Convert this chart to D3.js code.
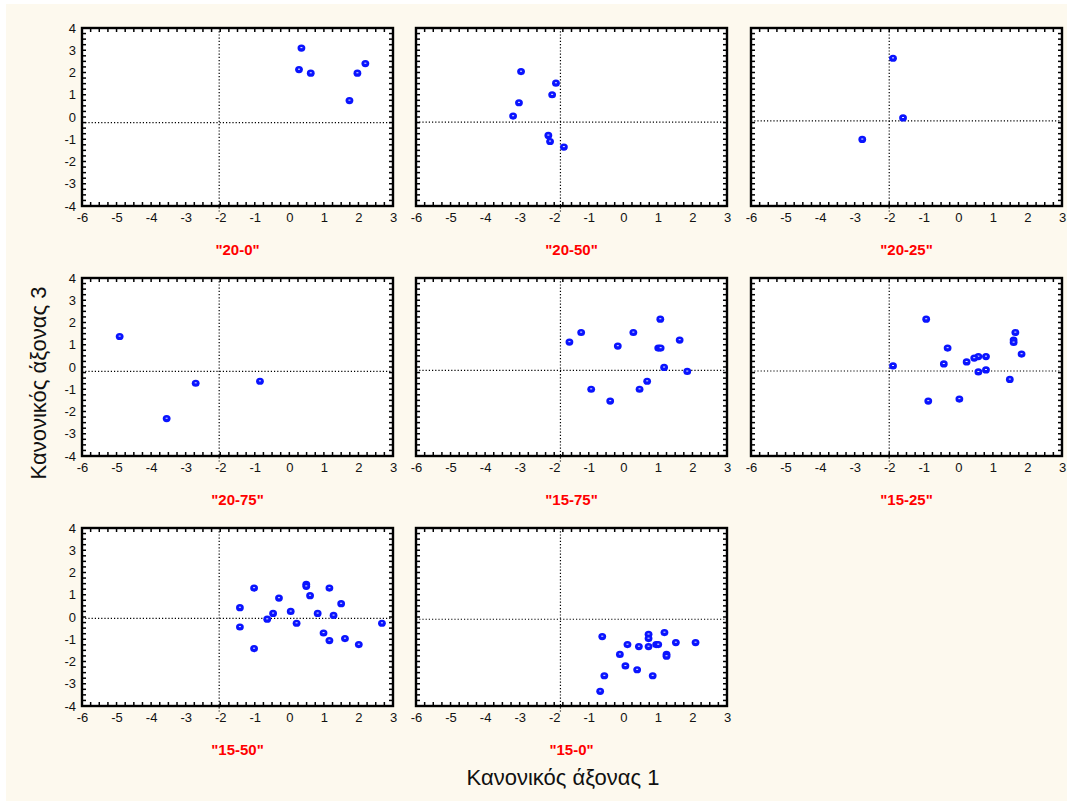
<!DOCTYPE html>
<html>
<head>
<meta charset="utf-8">
<script src="https://cdn.jsdelivr.net/npm/d3@7"></script>
<style>
  body { margin: 0; background: #ffffff; }
  svg { display: block; font-family: 'Liberation Sans', Arial, sans-serif; }
</style>
</head>
<body>
<svg id="main" width="1073" height="805"></svg>
<script>
// DATA
const groupNames = ['"20-0"', '"20-50"', '"20-25"', '"20-75"', '"15-75"', '"15-25"', '"15-50"', '"15-0"'];

const pts20_0 = [[0.35, 3.10], [0.28, 2.13], [0.62, 1.97], [1.74, 0.74], [1.97, 1.97], [2.20, 2.40]];
const pts20_50 = [[-2.96, 2.04], [-1.95, 1.52], [-2.06, 1.00], [-3.02, 0.64], [-3.19, 0.04],
  [-2.17, -0.83], [-2.12, -1.10], [-1.72, -1.35]];
const pts20_25 = [[-1.89, 2.64], [-1.60, -0.04], [-2.78, -1.01]];
const pts20_75 = [[-4.91, 1.37], [-3.55, -2.32], [-2.71, -0.73], [-0.85, -0.64]];
const pts15_75 = [[-1.56, 1.12], [-1.22, 1.55], [-0.16, 0.94], [0.29, 1.55], [1.07, 2.15],
  [1.63, 1.21], [1.01, 0.85], [1.08, 0.85], [1.18, -0.02], [1.85, -0.20], [0.69, -0.64],
  [0.47, -1.00], [-0.93, -1.00], [-0.38, -1.53]];
const pts15_25 = [[-0.93, 2.15], [1.65, 1.55], [1.60, 1.21], [1.60, 1.10], [1.83, 0.58],
  [-0.31, 0.85], [0.80, 0.47], [0.58, 0.47], [0.46, 0.40], [0.24, 0.23], [-0.42, 0.14],
  [-1.89, 0.05], [0.80, -0.13], [0.58, -0.22], [1.49, -0.56], [0.03, -1.44], [-0.87, -1.53]];
const pts15_50 = [[-1.43, 0.42], [-1.43, -0.45], [-1.02, 1.30], [-1.02, -1.42], [-0.64, -0.10],
  [-0.47, 0.16], [-0.30, 0.85], [0.04, 0.25], [0.21, -0.28], [0.49, 1.47], [0.49, 1.38],
  [0.60, 0.96], [0.82, 0.16], [0.99, -0.72], [1.16, 1.30], [1.16, -1.06], [1.28, 0.07],
  [1.50, 0.60], [1.61, -0.97], [2.01, -1.24], [2.68, -0.28]];
const pts15_0 = [[-0.61, -0.88], [0.73, -0.78], [0.73, -0.97], [1.19, -0.70], [0.12, -1.24],
  [0.45, -1.33], [0.73, -1.33], [0.95, -1.24], [1.01, -1.24], [1.52, -1.15], [2.09, -1.15],
  [-0.10, -1.68], [1.25, -1.68], [1.25, -1.76], [0.06, -2.20], [0.40, -2.37], [-0.55, -2.64],
  [0.85, -2.64], [-0.67, -3.34]];
const groupPoints = [pts20_0, pts20_50, pts20_25, pts20_75, pts15_75, pts15_25, pts15_50, pts15_0];

// dotted reference lines (axis 1, axis 3) for each panel
const refX = [-2.03, -1.82, -2.0, -2.03, -1.82, -2.0, -2.03, -1.82];
const refY = [-0.25, -0.23, -0.17, -0.2, -0.15, -0.18, -0.06, -0.1];

const xTicks = [-6, -5, -4, -3, -2, -1, 0, 1, 2, 3];
const yTicks = [-4, -3, -2, -1, 0, 1, 2, 3, 4];
const xTitle = 'Κανονικός άξονας 1';
const yTitle = 'Κανονικός άξονας 3';

// LAYOUT
const colLeft = [82, 416, 751];
const rowTop = [28, 278, 528];
const panelW = 311;
const panelH = 178;
const tickLen = 4;
const labelFont = "'Liberation Sans', Arial, sans-serif";

const svg = d3.select('#main');
svg.append('rect')
  .attr('x', 6).attr('y', 4)
  .attr('width', 1061).attr('height', 797)
  .attr('fill', '#fdf9ee');

const xScale = d3.scaleLinear().domain([-6, 3]).range([0, panelW]);
const yScale = d3.scaleLinear().domain([-4, 4]).range([panelH, 0]);

groupNames.forEach((name, i) => {
  const col = i % 3;
  const row = Math.floor(i / 3);
  drawPanel(colLeft[col], rowTop[row], name, groupPoints[i], refX[i], refY[i], col === 0);
});

/**
 * Draws one scatter panel at (left, top).
 */
function drawPanel(left, top, name, points, rx, ry, showY) {
  const g = svg.append('g').attr('transform', `translate(${left},${top})`);

  g.append('rect')
    .attr('width', panelW).attr('height', panelH)
    .attr('fill', '#ffffff');

  // minor ticks on all four sides, pointing inward
  const minorX = d3.range(-6, 3.001, 0.25);
  const minorY = d3.range(-4, 4.001, 0.25);
  const tg = g.append('g').attr('stroke', '#000').attr('stroke-width', 1.5);
  tg.selectAll('line.tb').data(minorX).join('line')
    .attr('class', 'tb')
    .attr('x1', (d) => xScale(d)).attr('x2', (d) => xScale(d))
    .attr('y1', panelH).attr('y2', panelH - tickLen);
  tg.selectAll('line.tt').data(minorX).join('line')
    .attr('class', 'tt')
    .attr('x1', (d) => xScale(d)).attr('x2', (d) => xScale(d))
    .attr('y1', 0).attr('y2', tickLen);
  tg.selectAll('line.tl').data(minorY).join('line')
    .attr('class', 'tl')
    .attr('y1', (d) => yScale(d)).attr('y2', (d) => yScale(d))
    .attr('x1', 0).attr('x2', tickLen);
  tg.selectAll('line.tr').data(minorY).join('line')
    .attr('class', 'tr')
    .attr('y1', (d) => yScale(d)).attr('y2', (d) => yScale(d))
    .attr('x1', panelW).attr('x2', panelW - tickLen);

  // tick labels (plain hyphen for negatives)
  const xa = g.append('g').attr('transform', `translate(0,${panelH})`)
    .call(d3.axisBottom(xScale).tickValues(xTicks).tickSize(0).tickPadding(7)
      .tickFormat((d) => String(d)));
  xa.select('.domain').remove();
  xa.selectAll('text').attr('font-size', 13).attr('fill', '#111').attr('font-family', labelFont);
  if (showY) {
    const ya = g.append('g')
      .call(d3.axisLeft(yScale).tickValues(yTicks).tickSize(0).tickPadding(6)
        .tickFormat((d) => String(d)));
    ya.select('.domain').remove();
    ya.selectAll('text').attr('font-size', 13).attr('fill', '#111').attr('font-family', labelFont);
  }

  // dotted reference lines
  g.append('line')
    .attr('x1', xScale(rx)).attr('x2', xScale(rx))
    .attr('y1', 0).attr('y2', panelH + 6)
    .attr('stroke', '#000').attr('stroke-width', 1.2).attr('stroke-dasharray', '1.2,2');
  g.append('line')
    .attr('x1', 0).attr('x2', panelW)
    .attr('y1', yScale(ry)).attr('y2', yScale(ry))
    .attr('stroke', '#000').attr('stroke-width', 1.2).attr('stroke-dasharray', '1.2,2');

  // frame
  g.append('rect')
    .attr('width', panelW).attr('height', panelH)
    .attr('fill', 'none').attr('stroke', '#000').attr('stroke-width', 2.4);

  // points
  const pg = g.append('g').selectAll('g.pt').data(points).join('g')
    .attr('class', 'pt')
    .attr('transform', (d) => `translate(${xScale(d[0])},${yScale(d[1])})`);
  pg.append('ellipse').attr('rx', 3.9).attr('ry', 3.6).attr('fill', '#0a14ff');
  pg.append('line').attr('x1', -1).attr('x2', 1).attr('y1', -0.4).attr('y2', -0.4)
    .attr('stroke', '#e8ecff').attr('stroke-width', 1);

  // group title
  g.append('text')
    .attr('x', panelW / 2).attr('y', panelH + 49)
    .attr('text-anchor', 'middle')
    .attr('font-size', 15).attr('font-weight', 'bold').attr('fill', '#ff0000')
    .attr('font-family', labelFont)
    .text(name);
}

// axis titles
svg.append('text')
  .attr('x', 563).attr('y', 785)
  .attr('text-anchor', 'middle')
  .attr('font-size', 22).attr('fill', '#111')
  .text(xTitle);
svg.append('text')
  .attr('transform', 'translate(46,383) rotate(-90)')
  .attr('text-anchor', 'middle')
  .attr('font-size', 22).attr('fill', '#111')
  .text(yTitle);
</script>
</body>
</html>
